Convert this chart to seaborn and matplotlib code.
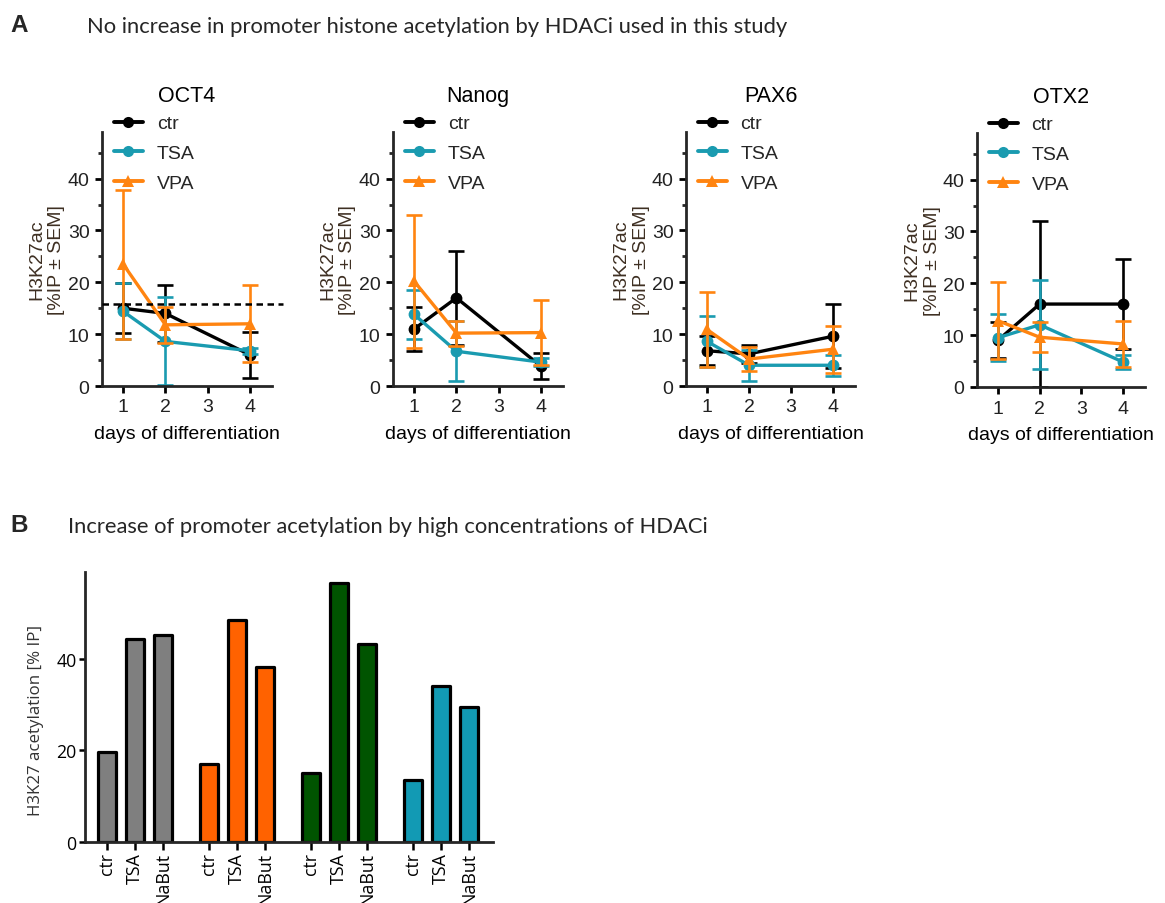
import matplotlib
matplotlib.use("Agg")
import matplotlib.pyplot as plt
from matplotlib.lines import Line2D
from matplotlib.ticker import MultipleLocator
import numpy as np
import pandas as pd
import seaborn as sns

# ---- Panel A: H3K27ac ChIP at promoters during differentiation ----
genes = ["OCT4", "Nanog", "PAX6", "OTX2"]
days = [1, 2, 4]
treatments = ["ctr", "TSA", "VPA"]

ctr_mean = {"OCT4": [15.0, 14.0, 6.0], "Nanog": [11.0, 17.0, 3.8],
            "PAX6": [6.8, 6.2, 9.6], "OTX2": [9.0, 16.0, 16.0]}
ctr_sem = {"OCT4": [4.8, 5.5, 4.5], "Nanog": [4.2, 9.0, 2.5],
           "PAX6": [2.8, 1.7, 6.2], "OTX2": [3.5, 16.0, 8.6]}
tsa_mean = {"OCT4": [14.4, 8.6, 6.8], "Nanog": [13.8, 6.7, 4.6],
            "PAX6": [8.6, 4.0, 4.0], "OTX2": [9.5, 12.0, 4.8]}
tsa_sem = {"OCT4": [5.4, 8.5, 0.6], "Nanog": [4.7, 5.8, 0.8],
           "PAX6": [5.0, 3.0, 2.0], "OTX2": [4.5, 8.6, 1.4]}
vpa_mean = {"OCT4": [23.5, 11.8, 12.0], "Nanog": [20.2, 10.2, 10.3],
            "PAX6": [10.9, 5.2, 7.1], "OTX2": [12.8, 9.6, 8.3]}
vpa_sem = {"OCT4": [14.4, 3.5, 7.4], "Nanog": [12.8, 2.4, 6.3],
           "PAX6": [7.3, 2.3, 4.5], "OTX2": [7.4, 2.9, 4.5]}
oct4_reference_level = 15.8

# ---- Panel B: promoter acetylation at high HDACi concentrations ----
bar_sets = ["I", "II", "III", "IV"]
bar_treatments = ["ctr", "TSA", "NaBut"]
bar_values = {"I": [19.7, 44.4, 45.3], "II": [17.0, 48.5, 38.2],
              "III": [15.0, 56.6, 43.3], "IV": [13.5, 34.0, 29.6]}

series_colors = {"ctr": "#000000", "TSA": "#1a9bb0", "VPA": "#ff8410"}
series_markers = {"ctr": "o", "TSA": "o", "VPA": "^"}
bar_colors = ["#7f7f7f", "#ff6200", "#005400", "#129ab4"]
label_color = "#3e2f22"

sns.set_theme(style="ticks")
plt.rcParams["font.family"] = ["Liberation Sans", "DejaVu Sans"]
plt.rcParams["axes.linewidth"] = 2.0

W, H = 11.65, 9.04
fig = plt.figure(figsize=(W, H), dpi=100)


def fx(px):
    return px / (W * 100)


def fy(px):
    return 1 - px / (H * 100)


# Panel A: one axes per gene (pixel frame: left, right, top, bottom)
frames = [(102, 272, 133, 387), (393, 563, 133, 387),
          (686, 855, 133, 387), (977, 1145, 134, 388)]
means = {"ctr": ctr_mean, "TSA": tsa_mean, "VPA": vpa_mean}
sems = {"ctr": ctr_sem, "TSA": tsa_sem, "VPA": vpa_sem}

for gene, (l, r, t, b) in zip(genes, frames):
    ax = fig.add_axes([fx(l), fy(b), fx(r - l), (b - t) / (H * 100)])
    for tr in treatments:
        df = pd.DataFrame({"day": days, "value": means[tr][gene]})
        ax.errorbar(days, means[tr][gene], yerr=sems[tr][gene], fmt="none",
                    ecolor=series_colors[tr], elinewidth=1.9, capsize=6,
                    capthick=1.9)
        sns.lineplot(data=df, x="day", y="value", color=series_colors[tr],
                     marker=series_markers[tr], markersize=8.5,
                     markeredgewidth=0, linewidth=2.4, ax=ax, legend=False)
    if gene == "OCT4":
        ax.plot([0.5, 4.77], [oct4_reference_level] * 2, color="black",
                linewidth=1.8, dashes=(2.6, 1.8), clip_on=False, zorder=5)

    ax.set_xlim(0.5, 4.52)
    ax.set_ylim(0, 49)
    ax.set_xticks([1, 2, 3, 4])
    ax.yaxis.set_major_locator(MultipleLocator(10))
    ax.yaxis.set_minor_locator(MultipleLocator(5))
    ax.set_yticks([0, 10, 20, 30, 40])
    ax.tick_params(axis="both", which="major", labelsize=14, width=2,
                   length=5, pad=4, colors="black", labelcolor="#222222")
    ax.tick_params(axis="y", which="minor", width=2, length=3)
    sns.despine(ax=ax)
    ax.set_title(gene, fontsize=15.5, pad=22, color="black")
    ax.set_xlabel("days of differentiation", fontsize=14, labelpad=7,
                  color="black")
    ax.set_ylabel("H3K27ac\n[%IP \u00b1 SEM]", fontsize=14, color=label_color,
                  linespacing=1.25)
    ax.yaxis.set_label_coords(-0.215, 0.5)

    handles = [Line2D([], [], color=series_colors[tr], linewidth=2.8,
                      marker=series_markers[tr], markersize=8,
                      markeredgewidth=0) for tr in treatments]
    ax.legend(handles, treatments, loc="upper left",
              bbox_to_anchor=(0.07, 1.068), frameon=False, fontsize=14,
              handlelength=1.5, handletextpad=0.7, labelspacing=0.62,
              borderpad=0, borderaxespad=0)

# Panel B: grouped bars
rows = []
for s in bar_sets:
    for tr, v in zip(bar_treatments, bar_values[s]):
        rows.append({"set": s, "treatment": tr, "value": v})
bar_df = pd.DataFrame(rows)

axB = fig.add_axes([fx(85), fy(843), fx(493 - 85), 270 / (H * 100)])
sns.barplot(data=bar_df, x="set", y="value", hue="treatment",
            order=bar_sets, hue_order=bar_treatments, width=0.82, gap=0.35,
            errorbar=None, legend=False, edgecolor="black", linewidth=2.3,
            ax=axB)
centers = []
for p in axB.patches:
    c = p.get_x() + p.get_width() / 2
    p.set_facecolor(bar_colors[int(round(c))])
    p.set_joinstyle("round")
    centers.append(c)
centers = sorted(centers)
axB.set_xlim(-0.49, 3.51)
axB.set_ylim(0, 59)
axB.set_xticks(centers)
axB.set_xticklabels(bar_treatments * len(bar_sets), rotation=90,
                    fontsize=12.8, family=["Open Sans", "DejaVu Sans"])
axB.set_yticks([0, 20, 40])
axB.set_yticklabels(["0", "20", "40"], fontsize=12.8,
                    family=["Open Sans", "DejaVu Sans"])
axB.tick_params(axis="x", width=1.8, length=6, pad=1.5, colors="black")
axB.tick_params(axis="y", width=1.8, length=4, pad=2, colors="black")
for sp in ("left", "bottom"):
    axB.spines[sp].set_linewidth(2.0)
sns.despine(ax=axB)
axB.set_xlabel("")
axB.set_ylabel("H3K27 acetylation [% IP]", fontsize=12.2,
               family=["Open Sans", "DejaVu Sans"], color="#333333")
axB.yaxis.set_label_coords(-0.10, 0.452)

# Panel letters and headings
head_font = ["Lato", "DejaVu Sans"]
fig.text(fx(10), fy(26), "A", fontsize=17.5, fontweight="bold",
         family=["Liberation Sans", "DejaVu Sans"], va="center", ha="left")
fig.text(fx(87), fy(27), "No increase in promoter histone acetylation by HDACi used in this study",
         fontsize=15.8, family=head_font, va="center", ha="left")
fig.text(fx(10), fy(526), "B", fontsize=17.5, fontweight="bold",
         family=["Liberation Sans", "DejaVu Sans"], va="center", ha="left")
fig.text(fx(68), fy(527), "Increase of promoter acetylation by high concentrations of HDACi",
         fontsize=15.8, family=head_font, va="center", ha="left")

fig.savefig("out.png", dpi=100, facecolor="white")
